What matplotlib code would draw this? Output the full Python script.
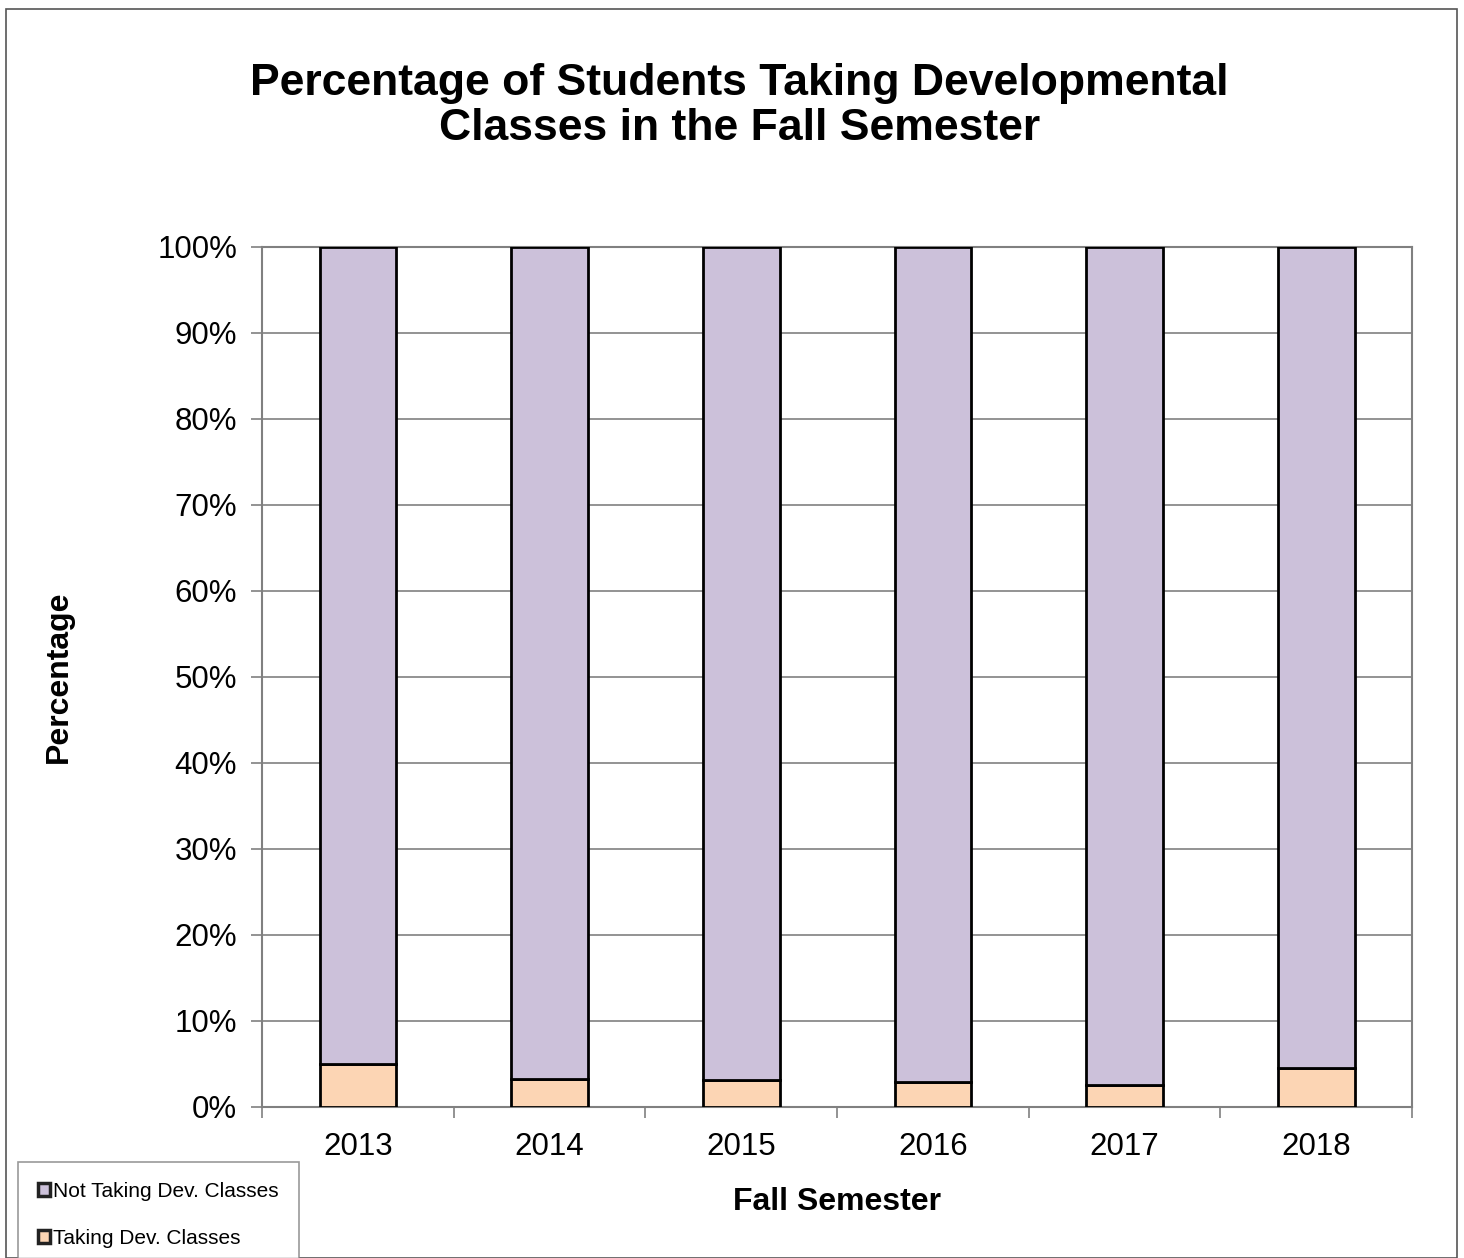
import numpy as np
import matplotlib.pyplot as plt
from matplotlib.patches import Rectangle

plt.rcParams['font.family'] = ['Liberation Sans', 'DejaVu Sans']

years = ['2013', '2014', '2015', '2016', '2017', '2018']
taking = [5.0, 3.2, 3.1, 2.9, 2.6, 4.5]
not_taking = [100 - v for v in taking]

fig = plt.figure(figsize=(14.64, 12.58), dpi=100)
fig.patches.append(Rectangle((6 / 1464, 0), 1451 / 1464, 1 - 9 / 1258, transform=fig.transFigure,
                             fill=False, edgecolor='#555555', linewidth=1.2))

ax = fig.add_axes([262 / 1464, 1 - 1107 / 1258, 1150 / 1464, 860 / 1258])
x = np.arange(len(years))
ax.bar(x, taking, width=0.4, color='#FCD5B4', edgecolor='black', linewidth=2,
       label='Taking Dev. Classes', zorder=3)
ax.bar(x, not_taking, width=0.4, bottom=taking, color='#CCC1DA', edgecolor='black', linewidth=2,
       label='Not Taking Dev. Classes', zorder=3)

ax.set_xlim(-0.5, len(years) - 0.5)
ax.set_ylim(0, 100)
ax.set_yticks(np.arange(0, 101, 10))
ax.set_yticklabels([f'{v}%' for v in range(0, 101, 10)], fontsize=22.5)
ax.set_xticks(x)
ax.set_xticklabels(years, fontsize=22.5)
ax.set_xticks(np.arange(-0.5, len(years)), minor=True)
ax.tick_params(axis='x', which='major', length=0, pad=18)
ax.tick_params(axis='x', which='minor', length=8, color='#808080', width=1.2)
ax.tick_params(axis='y', length=8, color='#808080', width=1.2, pad=10)
ax.yaxis.grid(True, color='#808080', linewidth=1.2, zorder=0)
for s in ax.spines.values():
    s.set_color('#808080')
    s.set_linewidth(1.5)

ax.set_xlabel('Fall Semester', fontsize=23, fontweight='bold', labelpad=18)
ax.set_ylabel('Percentage', fontsize=23, fontweight='bold', labelpad=60)

fig.text(0.505, 1 - 106 / 1258, 'Percentage of Students Taking Developmental\nClasses in the Fall Semester',
         ha='center', va='center', fontsize=32, fontweight='bold', linespacing=1.15)

handles, labels = ax.get_legend_handles_labels()
leg = fig.legend(handles[::-1], labels[::-1], loc='upper left',
                 bbox_to_anchor=(18 / 1464, 1 - 1162 / 1258), fontsize=15,
                 frameon=True, fancybox=False, edgecolor='#808080', handlelength=0.6,
                 handleheight=0.6, handletextpad=0.15, labelspacing=1.35, borderpad=0.95,
                 borderaxespad=0)
leg.get_frame().set_linewidth(1.2)
for h in leg.legend_handles:
    h.set_linewidth(2.5)
    h.set_edgecolor('#222222')

fig.savefig('out.png', dpi=100)
